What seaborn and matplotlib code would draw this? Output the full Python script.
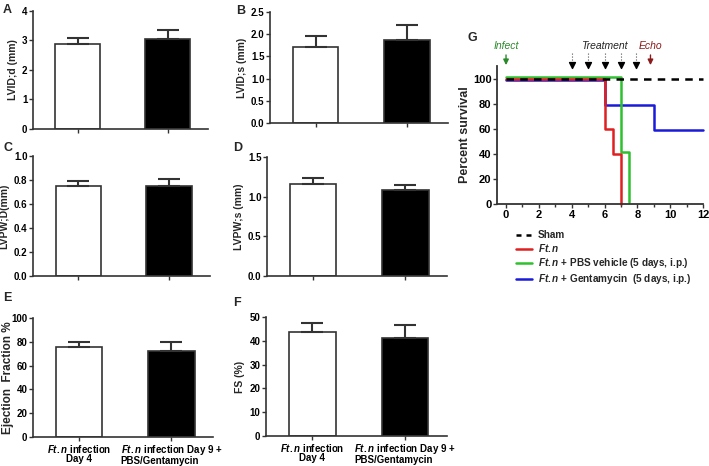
import matplotlib
matplotlib.use("Agg")
import matplotlib.pyplot as plt
import matplotlib.transforms as mtrans
from matplotlib.lines import Line2D
import pandas as pd
import seaborn as sns

# bar panels: two groups, mean and upper error
groups = ["Day 4", "Day 9"]
lvid_d = [2.87, 3.05]
lvid_d_err = [0.23, 0.30]
lvid_s = [1.72, 1.86]
lvid_s_err = [0.25, 0.34]
lvpw_d = [0.75, 0.75]
lvpw_d_err = [0.04, 0.06]
lvpw_s = [1.16, 1.08]
lvpw_s_err = [0.07, 0.07]
ef = [76, 72]
ef_err = [4, 7.5]
fs = [43.5, 41]
fs_err = [3.8, 5.5]

# survival curves (time in days, percent survival)
sham_t = [0, 12]
sham_s = [100, 100]
ftn_t = [0, 6, 6.5, 7]
ftn_s = [100, 60, 40, 0]
pbs_t = [0, 7, 7.5]
pbs_s = [100, 40, 0]
gent_t = [0, 6, 9, 12]
gent_s = [100, 80, 60, 60]

treat_days = [4, 5, 6, 7, 7.9]
echo_day = 8.8

sns.set_style("ticks")
plt.rcParams["font.family"] = ["Liberation Sans", "DejaVu Sans"]
plt.rcParams["font.weight"] = "bold"
plt.rcParams["mathtext.fontset"] = "custom"
plt.rcParams["mathtext.it"] = "Liberation Sans:italic:bold"
plt.rcParams["mathtext.rm"] = "Liberation Sans:bold"
plt.rcParams["axes.edgecolor"] = "#333333"
plt.rcParams["xtick.color"] = "#333333"
plt.rcParams["ytick.color"] = "#333333"
plt.rcParams["xtick.labelcolor"] = "black"
plt.rcParams["ytick.labelcolor"] = "black"

W, H = 709, 466
fig = plt.figure(figsize=(W / 100, H / 100), dpi=100)


def px_axes(l, t, r, b):
    return fig.add_axes([l / W, 1 - b / H, (r - l) / W, (b - t) / H])


def bar_panel(ax, vals, errs, ylim, yticks, ylabel, letter, lx, ly, labsize=7.5, xlabels=None):
    df = pd.DataFrame({"g": groups, "v": vals})
    sns.barplot(data=df, x="g", y="v", hue="g", palette=["white", "black"],
                edgecolor="#333333", linewidth=1.2, width=0.5, legend=False, ax=ax)
    ax.errorbar([0, 1], vals, yerr=[[0, 0], errs], fmt="none", ecolor="#333333",
                elinewidth=1.5, capsize=8, capthick=1.5, zorder=1)
    ax.set_xlim(-0.5, 1.45)
    ax.set_ylim(*ylim)
    ax.set_yticks(yticks)
    ax.set_ylabel(ylabel, fontsize=labsize, fontweight="bold", labelpad=3)
    ax.set_xlabel("")
    ax.set_xticks([0, 1])
    if xlabels is None:
        ax.set_xticklabels(["", ""])
    else:
        labs = ax.set_xticklabels(xlabels, fontsize=7.5, linespacing=0.95)
        labs[1].set_multialignment("left")
    ax.tick_params(axis="both", labelsize=7, length=3, width=1, pad=1)
    for s in ["top", "right"]:
        ax.spines[s].set_visible(False)
    for s in ["left", "bottom"]:
        ax.spines[s].set_linewidth(1.2)
    fig.text(lx / W, 1 - ly / H, letter, fontsize=9, fontweight="bold", va="center", ha="left")
    return ax


xl = [r"$\it{Ft.n}$ infection" + "\nDay 4",
      r"$\it{Ft.n}$ infection Day 9 +" + "\nPBS/Gentamycin"]

bar_panel(px_axes(33, 11, 208, 129), lvid_d, lvid_d_err, (0, 4), [0, 1, 2, 3, 4],
          "LVID;d (mm)", "A", 3, 10)
bar_panel(px_axes(270, 12, 448, 123), lvid_s, lvid_s_err, (0, 2.5),
          [0, 0.5, 1.0, 1.5, 2.0, 2.5], "LVID;s (mm)", "B", 236, 11)
bar_panel(px_axes(33, 156, 210, 276), lvpw_d, lvpw_d_err, (0, 1.0),
          [0, 0.2, 0.4, 0.6, 0.8, 1.0], "LVPW;D(mm)", "C", 3, 148)
bar_panel(px_axes(267, 157, 447, 276), lvpw_s, lvpw_s_err, (0, 1.5),
          [0, 0.5, 1.0, 1.5], "LVPW;s (mm)", "D", 233, 148)
axe = bar_panel(px_axes(33, 318, 213, 437), ef, ef_err, (0, 100), [0, 20, 40, 60, 80, 100],
                "Ejection  Fraction %", "E", 3, 298, labsize=8.5, xlabels=xl)
axe.yaxis.set_label_coords(-0.105, 0.5)
bar_panel(px_axes(266, 317, 447, 436), fs, fs_err, (0, 50), [0, 10, 20, 30, 40, 50],
          "FS (%)", "F", 233, 303, xlabels=xl)

for ax in fig.axes[:4]:
    ax.yaxis.set_major_formatter(matplotlib.ticker.FormatStrFormatter(
        "%.1f" if ax.get_ylim()[1] <= 2.5 else "%d"))

# survival panel
axg = px_axes(497, 66, 703, 204)
off = lambda dy: axg.transData + mtrans.ScaledTranslation(0, dy / 72, fig.dpi_scale_trans)
series = [
    (gent_t, gent_s, "#1a1adb", -1.2),
    (pbs_t, pbs_s, "#2ec02e", 1.2),
    (ftn_t, ftn_s, "#e02020", 0),
]
for t, s, c, dy in series:
    sns.lineplot(x=t, y=s, ax=axg, color=c, lw=1.8, drawstyle="steps-post",
                 transform=off(dy), clip_on=False)
sns.lineplot(x=sham_t, y=sham_s, ax=axg, color="black", lw=1.8, dashes=(3, 2.5),
             clip_on=False)
axg.set_xlim(-0.55, 12)
axg.set_ylim(0, 110)
axg.set_xticks(range(0, 13, 2))
axg.set_xticks(range(1, 13, 2), minor=True)
axg.set_yticks([0, 20, 40, 60, 80, 100])
axg.tick_params(axis="both", labelsize=8, length=3, width=1, pad=1)
axg.tick_params(axis="x", which="minor", length=2, width=1)
axg.set_ylabel("Percent survival", fontsize=9, fontweight="bold", labelpad=1)
for s in ["top", "right"]:
    axg.spines[s].set_visible(False)
for s in ["left", "bottom"]:
    axg.spines[s].set_linewidth(1.3)
fig.text(467 / W, 1 - 38 / H, "G", fontsize=9, fontweight="bold", va="center")

# annotations above the survival plot
axg.annotate("", xy=(0, 108.5), xytext=(0, 121), annotation_clip=False,
             arrowprops=dict(arrowstyle="-|>", color="#2a8a2a", lw=1, mutation_scale=8))
axg.text(0, 126, "Infect", color="#2a8a2a", style="italic", fontweight="normal",
         fontsize=7.5, ha="center", va="center")
for d in treat_days:
    axg.plot([d, d], [112, 121], ls=":", color="#555555", lw=0.8, clip_on=False)
    axg.scatter([d], [111], marker="v", s=18, color="black", clip_on=False, zorder=5)
axg.text(6, 126, "Treatment", color="#222222", style="italic", fontweight="normal",
         fontsize=7.5, ha="center", va="center")
axg.annotate("", xy=(echo_day, 108.5), xytext=(echo_day, 121), annotation_clip=False,
             arrowprops=dict(arrowstyle="-|>", color="#8b1a1a", lw=1, mutation_scale=8))
axg.text(echo_day, 126, "Echo", color="#8b1a1a", style="italic", fontweight="normal",
         fontsize=7.5, ha="center", va="center")

handles = [
    Line2D([], [], color="black", lw=1.8, dashes=(2, 2)),
    Line2D([], [], color="#e02020", lw=1.8),
    Line2D([], [], color="#2ec02e", lw=1.8),
    Line2D([], [], color="#1a1adb", lw=1.8),
]
labels = ["Sham", r"$\it{Ft.n}$",
          r"$\it{Ft.n}$ + PBS vehicle (5 days, i.p.)",
          r"$\it{Ft.n}$ + Gentamycin  (5 days, i.p.)"]
fig.legend(handles, labels, loc="upper left", bbox_to_anchor=(516 / W, 1 - 230 / H),
           frameon=False, fontsize=7.2, handlelength=1.6, handletextpad=0.6,
           labelspacing=0.2, borderaxespad=0, borderpad=0)

fig.savefig("out.png", dpi=100)
